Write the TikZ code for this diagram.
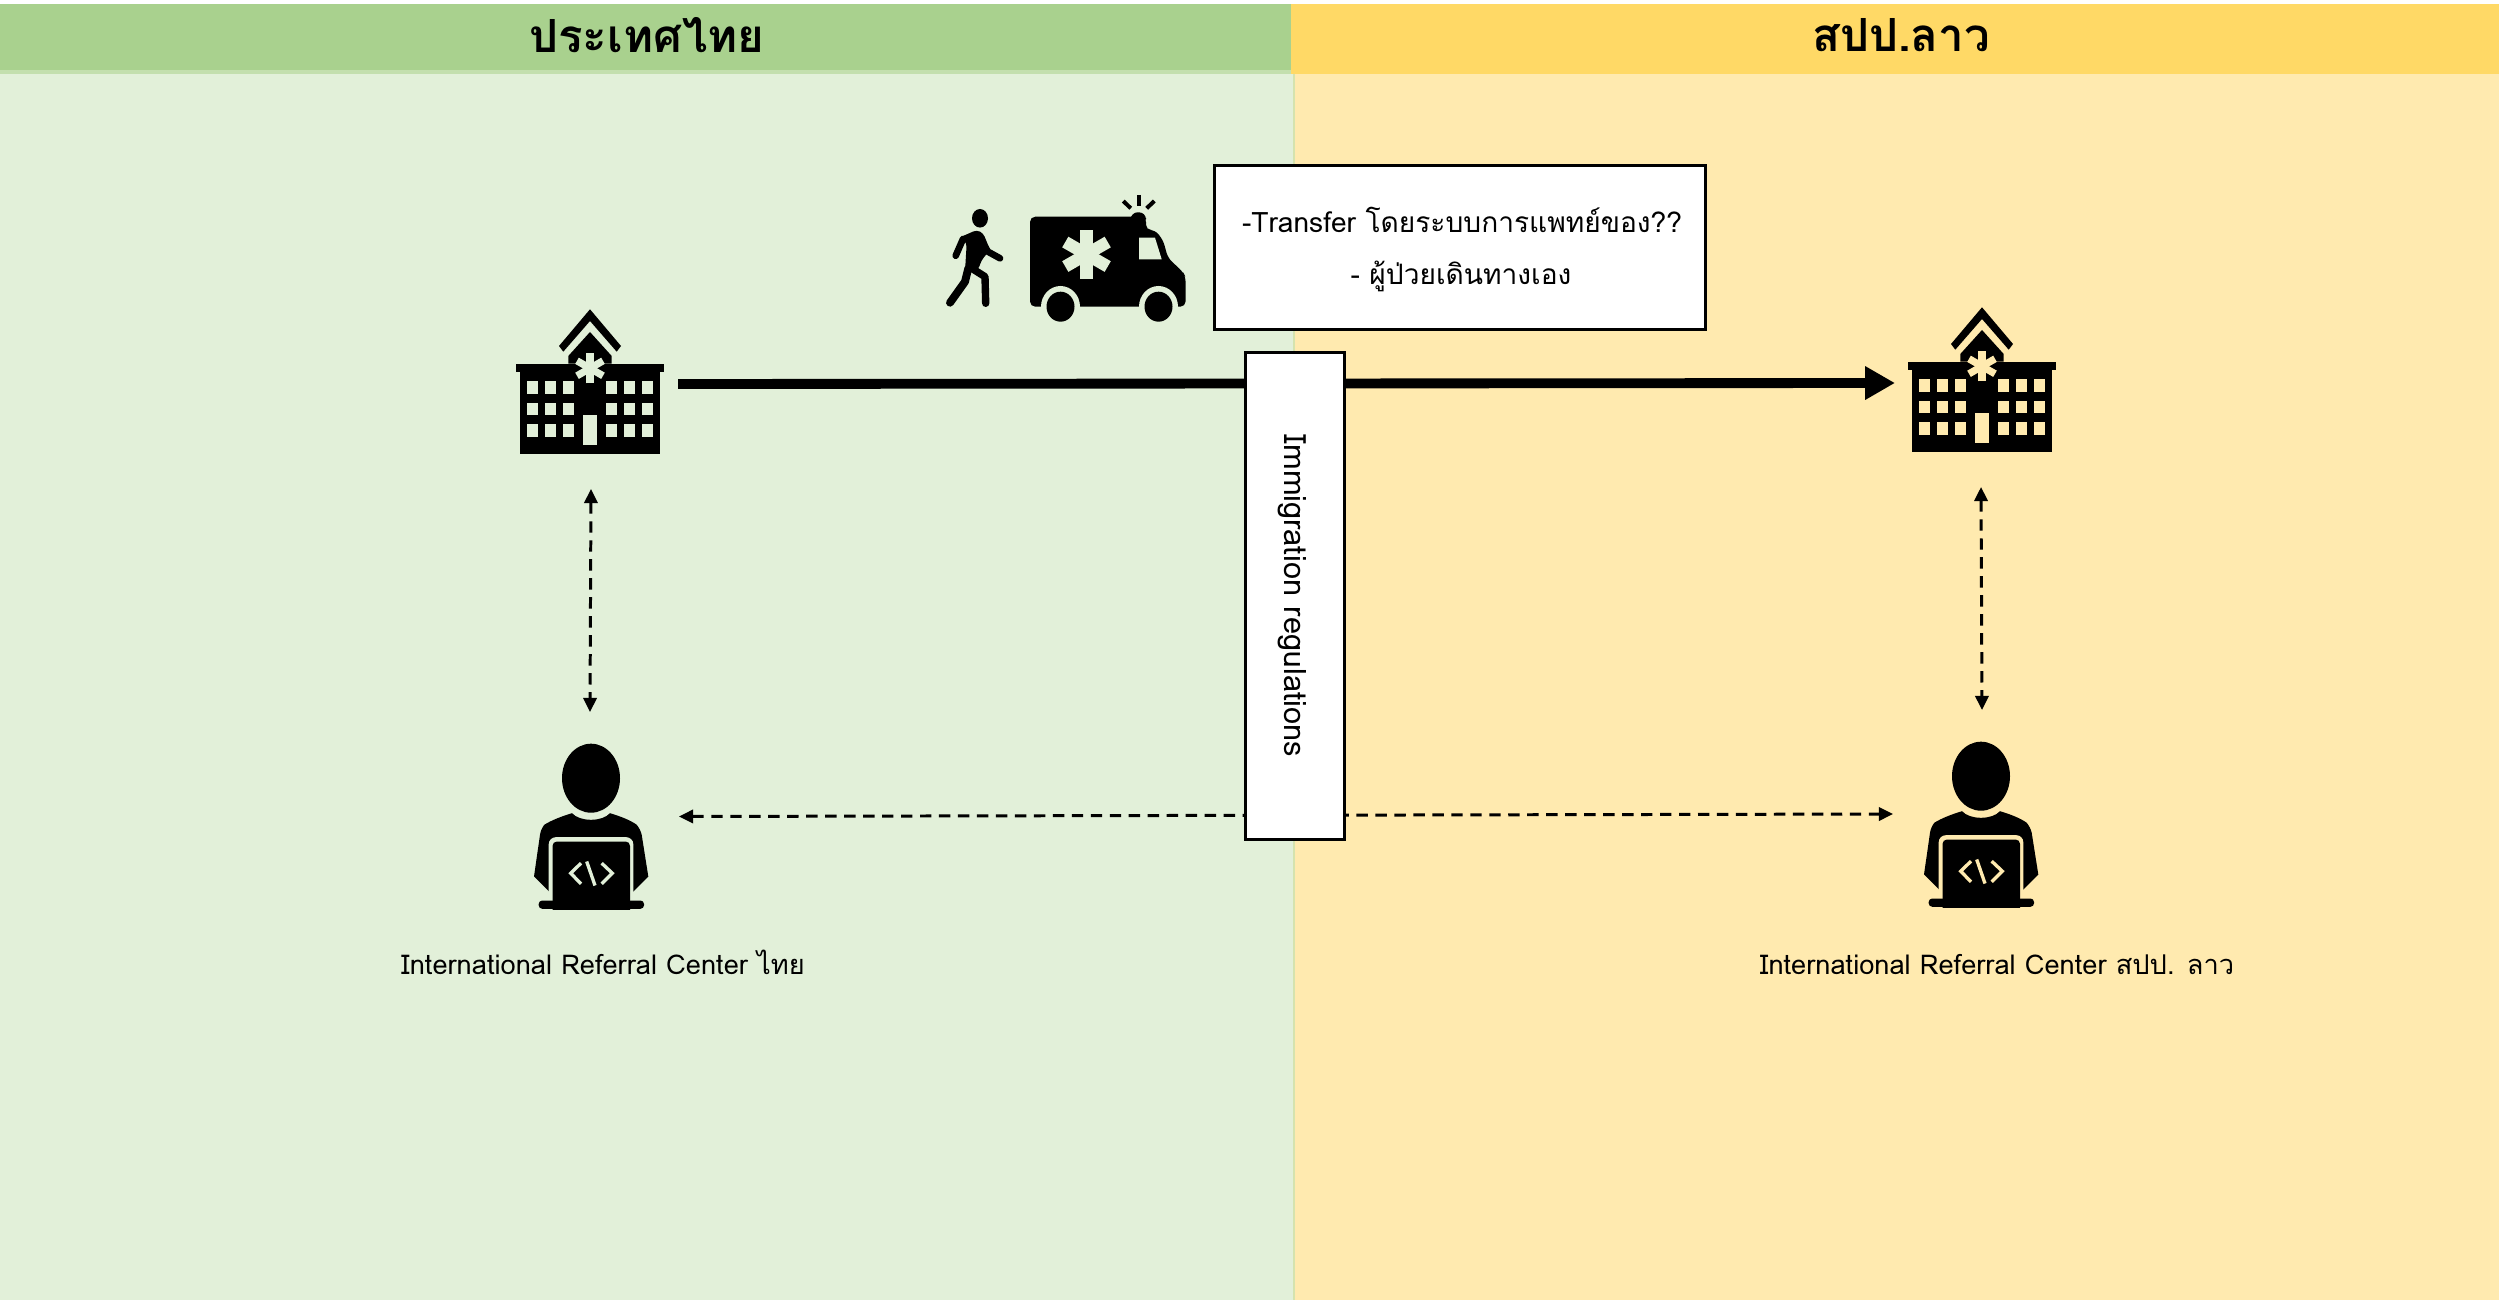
\documentclass[tikz,border=0pt]{standalone}
\usepackage{fontspec}
\newfontfamily\thaifont[Script=Thai]{Loma}
\usetikzlibrary{arrows.meta}
\definecolor{thgreen}{HTML}{E2F0D9}
\definecolor{thhead}{HTML}{A9D18E}
\definecolor{thband}{HTML}{C3DFAE}
\definecolor{thedge}{HTML}{D5E3AE}
\definecolor{layellow}{HTML}{FFEAAF}
\definecolor{lahead}{HTML}{FFD966}
\tikzset{
    head/.style={font=\thaifont\bfseries\fontsize{26}{30}\selectfont},
    note/.style={font=\thaifont\fontsize{15.5}{19}\selectfont},
    boxnote/.style={font=\thaifont\fontsize{16}{19}\selectfont},
    whitebox/.style={draw,fill=white,line width=1.6pt,inner sep=0pt},
    mainline/.style={line width=5.6pt,-{Triangle[length=17pt,width=18pt]}},
    dashline/.style={line width=1.7pt,dash pattern=on 6.5pt off 4.3pt,
        {Triangle[length=8pt,width=7.5pt]}-{Triangle[length=8pt,width=7.5pt]}},
    limb/.style={line cap=round,line join=round},
    pics/hospital/.style={code={
        \fill (-70,-10) rectangle (70,72.3);
        \fill (-74,-18.3) rectangle (74,-10);
        \fill (-21.7,-18.3) -- (-21.7,-26) -- (0,-50) -- (21.7,-26) -- (21.7,-18.3) -- cycle;
        \fill (-31,-36) -- (0,-72.7) -- (31,-36) -- (26.7,-30.3) -- (0,-61) -- (-26.7,-30.3) -- cycle;
        \foreach \a in {90,30,-30}
            \draw[#1,line width=4.1pt] (0,-13.7) ++(\a:15) -- ++(\a+180:30);
        \foreach \x in {-57.5,-39.5,-21.5,21.5,39.5,57.5}
            \foreach \y in {5.3,27,48.7}
                \fill[#1] (\x-5.5,\y-6.3) rectangle (\x+5.5,\y+6.3);
        \fill[#1] (-7.3,33.3) rectangle (7.3,63.3);
    }},
    pics/coder/.style={code={
        \fill (0,-13.3) ellipse [x radius=29,y radius=34.5];
        \fill (0,28.3) .. controls (-8,28.3) and (-15,26) .. (-19,21.7)
            .. controls (-30,25) and (-40,29) .. (-46.7,33.3)
            .. controls (-49,36) and (-50.5,40) .. (-51,43.3)
            -- (-57,85) -- (-42,100) -- (42.3,100) -- (57.3,85) -- (50.7,43.3)
            .. controls (50,40) and (48,36) .. (45.7,33.3)
            .. controls (40,29) and (30,25) .. (19,21.7)
            .. controls (15,26) and (8,28.3) .. (0,28.3) -- cycle;
        \fill[#1,rounded corners=4pt] (-42.3,45.7) rectangle (42.3,125);
        \fill[rounded corners=2.5pt] (-38.5,50) rectangle (39,125);
        \fill[#1] (-60,118) rectangle (60,125);
        \fill[rounded corners=2pt] (-52.3,109) -- (-52.3,117.3) -- (53,117.3) -- (53,109) -- cycle;
        \draw[#1,line width=1.9pt] (-10,71.7) -- (-20.3,81.7) -- (-10,92.3);
        \draw[#1,line width=1.9pt] (-4.3,70) -- (4,94);
        \draw[#1,line width=1.9pt] (10.7,71.7) -- (21.3,81.7) -- (10.7,92.3);
    }}
}
\begin{document}
\begin{tikzpicture}[x=0.02cm,y=-0.02cm]
    \useasboundingbox (0,0) rectangle (2499,1300);

    \fill[thgreen] (0,74) rectangle (1293,1300);
    \fill[layellow] (1295,74) rectangle (2499,1300);
    \fill[thedge] (1293,74) rectangle (1295,1300);
    \fill[thband] (0,70) rectangle (1291,74);
    \fill[thhead] (0,4) rectangle (1291,70);
    \fill[lahead] (1291,4) rectangle (2499,74);
    \node[head] (headth) at (647,35) {ประเทศไทย};
    \node[head] (headla) at (1901,35) {สปป.ลาว};

    \coordinate (hospth) at (678,384);
    \coordinate (hospla) at (1895,383);
    \coordinate (ircth) at (679,816.5);
    \coordinate (ircla) at (1893,814);
    \coordinate (vtha) at (591,489);
    \coordinate (vthb) at (590,712);
    \coordinate (vlaa) at (1981,487);
    \coordinate (vlab) at (1982,710);

    \draw[mainline] (hospth) -- (hospla);
    \draw[dashline] (ircth) -- (ircla);
    \draw[dashline] (vtha) -- (vthb);
    \draw[dashline] (vlaa) -- (vlab);

    \node[whitebox,minimum width=56pt,minimum height=277.5pt] (immig) at (1295,596) {};
    \node[rotate=-90,font=\thaifont\fontsize{17.5}{21}\selectfont] (immigtext) at (1292,596) {Immigration regulations};

    \node[whitebox,minimum width=279.5pt,minimum height=93.5pt] (transfer) at (1460,247.5) {};
    \node[boxnote] (transfera) at (1462,220) {-Transfer โดยระบบการแพทย์ของ??};
    \node[boxnote] (transferb) at (1461,276) {- ผู้ป่วยเดินทางเอง};

    \pic at (590,382) {hospital=thgreen};
    \pic at (1982,380) {hospital=layellow};
    \pic at (591,791.5) {coder=thgreen};
    \pic at (1981,789.5) {coder=layellow};

    \node[note] (labelth) at (603,962) {International Referral Center ไทย};
    \node[note] (labella) at (1997,964) {International Referral Center สปป. ลาว};

    % walking patient
    \fill (980,218.3) ellipse [x radius=8,y radius=9.3];
    \fill[rounded corners=2pt] (960,237.3) -- (976.7,230) -- (983.3,233.3) -- (990,250)
        -- (981.7,260) -- (978,270) -- (965,271.7) -- (966.7,243) -- cycle;
    \draw[limb,line width=3.8pt] (963,239) -- (955.7,255.7);
    \draw[limb,line width=3.8pt] (985,246.7) -- (988,251.7) -- (1000,258.3);
    \draw[limb,line width=4.2pt] (971.7,268.3) -- (985,276.7) -- (985.7,303.3);
    \draw[limb,line width=4.5pt] (968.3,268.3) -- (965,281.7) -- (950,302.7);

    % ambulance
    \fill[rounded corners=3pt] (1030,216.7) -- (1146,216.7)
        -- (1146,230) -- (1155,230) -- (1163,240) -- (1168,258) -- (1183,272) -- (1185.6,277)
        -- (1185.6,306.7) -- (1030,306.7) -- cycle;
    \fill[rounded corners=4pt] (1130.7,225) -- (1130.7,212.3) -- (1146,212.3) -- (1146,225) -- cycle;
    \fill[thgreen] (1060.5,306.7) ellipse [x radius=19.5,y radius=20.7];
    \fill[thgreen] (1158.5,306.7) ellipse [x radius=19.5,y radius=20.7];
    \fill (1060.5,306.7) ellipse [x radius=14,y radius=15];
    \fill (1158.5,306.7) ellipse [x radius=14,y radius=15];
    \fill[thgreen] (1139,237.7) -- (1155,237.7) -- (1161.7,259.3) -- (1139,259.3) -- cycle;
    \foreach \a in {90,30,-30}
        \draw[thgreen,line width=7pt] (1086.5,254.3) ++(\a:24.5) -- ++(\a+180:49);
    \draw[line width=2.3pt] (1138.7,195) -- (1138.7,205.7);
    \draw[line width=2.3pt] (1123.3,201) -- (1130.7,208.3);
    \draw[line width=2.3pt] (1154.3,201) -- (1146.7,208.3);
\end{tikzpicture}
\end{document}
